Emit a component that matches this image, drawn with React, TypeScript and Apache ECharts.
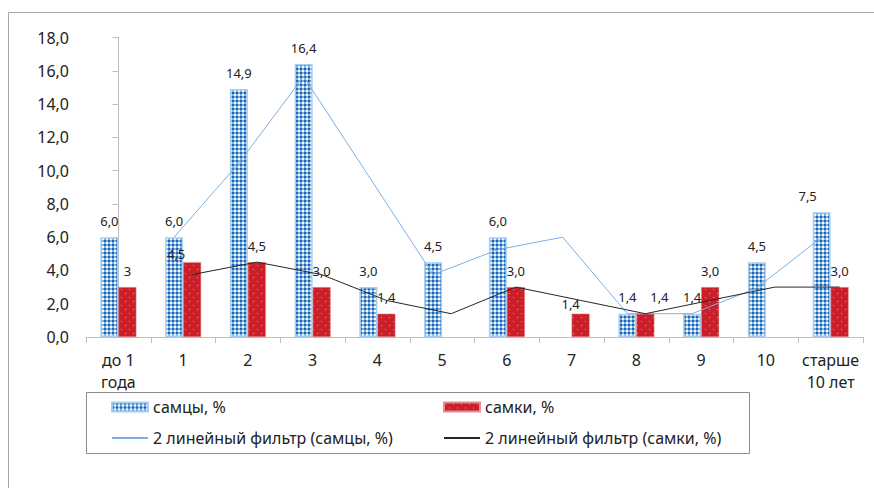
import React, { useEffect, useRef } from 'react';
import * as echarts from 'echarts';

const categories = ['до 1\nгода', '1', '2', '3', '4', '5', '6', '7', '8', '9', '10', 'старше\n10 лет'];
const maleValues: (number | null)[] = [6.0, 6.0, 14.9, 16.4, 3.0, 4.5, 6.0, null, 1.4, 1.4, 4.5, 7.5];
const femaleValues: (number | null)[] = [3.0, 4.5, 4.5, 3.0, 1.4, null, 3.0, 1.4, 1.4, 3.0, null, 3.0];
const maleLabels = ['6,0', '6,0', '14,9', '16,4', '3,0', '4,5', '6,0', '', '1,4', '1,4', '4,5', '7,5'];
const femaleLabels = ['3', '4,5', '4,5', '3,0', '1,4', '', '3,0', '1,4', '1,4', '3,0', '', '3,0'];
const maleTrend: (number | null)[] = [null, 6.0, 10.45, 15.65, 9.7, 3.75, 5.25, 6.0, 1.4, 1.4, 2.95, 6.0];
const femaleTrend: (number | null)[] = [null, 3.75, 4.5, 3.75, 2.2, 1.4, 3.0, 2.2, 1.4, 2.2, 3.0, 3.0];
const seriesNames = ['самцы, %', 'самки, %', '2 линейный фильтр (самцы, %)', '2 линейный фильтр (самки, %)'];
const yMin = 0;
const yMax = 18;
const yStep = 2;

// label nudges (Excel moved a few labels to avoid collisions)
const maleLabelOffset: Record<number, number[]> = { 11: [-14, 0] };
const femaleLabelOffset: Record<number, number[]> = { 1: [-16, 8], 7: [-10, 7], 8: [14, 0] };

const TEXT = '#222222';
const AXIS = '#bfbfbf';
const FONT = 'Noto Sans';

function makeTile(w: number, h: number, draw: (ctx: CanvasRenderingContext2D) => void) {
  const c = document.createElement('canvas');
  c.width = w;
  c.height = h;
  const ctx = c.getContext('2d')!;
  draw(ctx);
  return c;
}

export default function App() {
  const ref = useRef<HTMLDivElement>(null);
  useEffect(() => {
    if (!ref.current) return;
    const chart = echarts.init(ref.current, undefined, { renderer: 'svg' });

    const blueTile = makeTile(4, 4, (ctx) => {
      ctx.fillStyle = '#f4f9fd';
      ctx.fillRect(0, 0, 4, 4);
      ctx.fillStyle = '#7fb2e2';
      ctx.fillRect(2, 0, 2, 2);
      ctx.fillRect(0, 2, 2, 2);
      ctx.fillStyle = '#1766bb';
      ctx.fillRect(0, 0, 2, 2);
    });
    const redTile = makeTile(8, 8, (ctx) => {
      ctx.fillStyle = '#c9202a';
      ctx.fillRect(0, 0, 8, 8);
      ctx.fillStyle = '#e7868b';
      ctx.fillRect(1, 1, 1, 1);
      ctx.fillRect(5, 5, 1, 1);
    });
    const bluePattern: any = { image: blueTile, repeat: 'repeat' };
    const redPattern: any = { image: redTile, repeat: 'repeat' };

    const barW = 18;
    const gridLeft = 86;
    const gridRight = 11;
    const catW = (874 - gridLeft - gridRight) / categories.length;
    const shift = barW / 2 / catW;

    const labelBase = { show: true, position: 'top', distance: 10, fontSize: 13, color: TEXT, fontFamily: FONT };

    const option: any = {
      animation: false,
      textStyle: { fontFamily: FONT },
      grid: { left: gridLeft, right: gridRight, top: 37.5, bottom: 151, outerBoundsMode: 'none', containLabel: false },
      xAxis: [
        {
          type: 'category',
          data: categories,
          boundaryGap: true,
          axisLine: { show: true, lineStyle: { color: AXIS, width: 1 } },
          axisTick: { show: true, length: 6, interval: 0, alignWithLabel: false, lineStyle: { color: AXIS } },
          axisLabel: { interval: 0, fontSize: 16, lineHeight: 22, color: TEXT, margin: 12, fontFamily: FONT },
          splitLine: { show: false },
        },
        { type: 'value', min: -0.5, max: categories.length - 0.5, show: false },
      ],
      yAxis: {
        type: 'value',
        min: yMin,
        max: yMax,
        interval: yStep,
        axisLine: { show: true, lineStyle: { color: AXIS, width: 1 } },
        axisTick: { show: true, length: 6, lineStyle: { color: AXIS } },
        axisLabel: {
          fontSize: 16,
          color: TEXT,
          margin: 17,
          fontFamily: FONT,
          formatter: (v: number) => v.toFixed(1).replace('.', ','),
        },
        splitLine: { show: false },
      },
      legend: [0, 1, 2, 3].map((k) => ({
        data: [seriesNames[k]],
        left: k % 2 === 0 ? 111 : 443,
        top: k < 2 ? 399 : 430,
        padding: 0,
        itemWidth: 36,
        itemHeight: k < 2 ? 9 : 2,
        icon: k < 2 ? 'rect' : undefined,
        textStyle: { fontSize: 16, color: TEXT, fontFamily: FONT },
        selectedMode: false,
      })),
      graphic: [
        {
          type: 'rect',
          shape: { x: 8.5, y: 12.5, width: 1000, height: 1000 },
          style: { fill: 'none', stroke: '#a6a6a6', lineWidth: 1 },
          silent: true,
        },
        {
          type: 'rect',
          shape: { x: 86.5, y: 392.5, width: 663, height: 61 },
          style: { fill: 'none', stroke: '#8c8c8c', lineWidth: 1 },
          silent: true,
        },
      ],
      series: [
        {
          name: seriesNames[0],
          type: 'bar',
          barWidth: barW,
          barGap: '0%',
          itemStyle: { color: bluePattern, borderColor: '#a9cdee', borderWidth: 1.5 },
          data: maleValues.map((v, i) => ({
            value: v,
            label: { ...labelBase, formatter: maleLabels[i], offset: maleLabelOffset[i] || [0, 0] },
          })),
          z: 2,
        },
        {
          name: seriesNames[1],
          type: 'bar',
          barWidth: barW,
          barGap: '0%',
          itemStyle: { color: redPattern, borderColor: '#e58c90', borderWidth: 0.5 },
          data: femaleValues.map((v, i) => ({
            value: v,
            label: { ...labelBase, formatter: femaleLabels[i], offset: femaleLabelOffset[i] || [0, 0] },
          })),
          z: 2,
        },
        {
          name: seriesNames[2],
          type: 'line',
          xAxisIndex: 1,
          symbol: 'none',
          lineStyle: { color: '#7eaee0', width: 1 },
          itemStyle: { color: '#7eaee0' },
          data: maleTrend.map((v, i) => [i - shift, v]).filter((d) => d[1] != null),
          z: 5,
        },
        {
          name: seriesNames[3],
          type: 'line',
          xAxisIndex: 1,
          symbol: 'none',
          lineStyle: { color: '#262626', width: 1 },
          itemStyle: { color: '#262626' },
          data: femaleTrend.map((v, i) => [i + shift, v]).filter((d) => d[1] != null),
          z: 5,
        },
      ],
    };
    chart.setOption(option);
    return () => chart.dispose();
  }, []);
  return <div ref={ref} style={{ position: 'fixed', left: 0, top: 0, width: 874, height: 488, background: '#fff' }} />;
}
